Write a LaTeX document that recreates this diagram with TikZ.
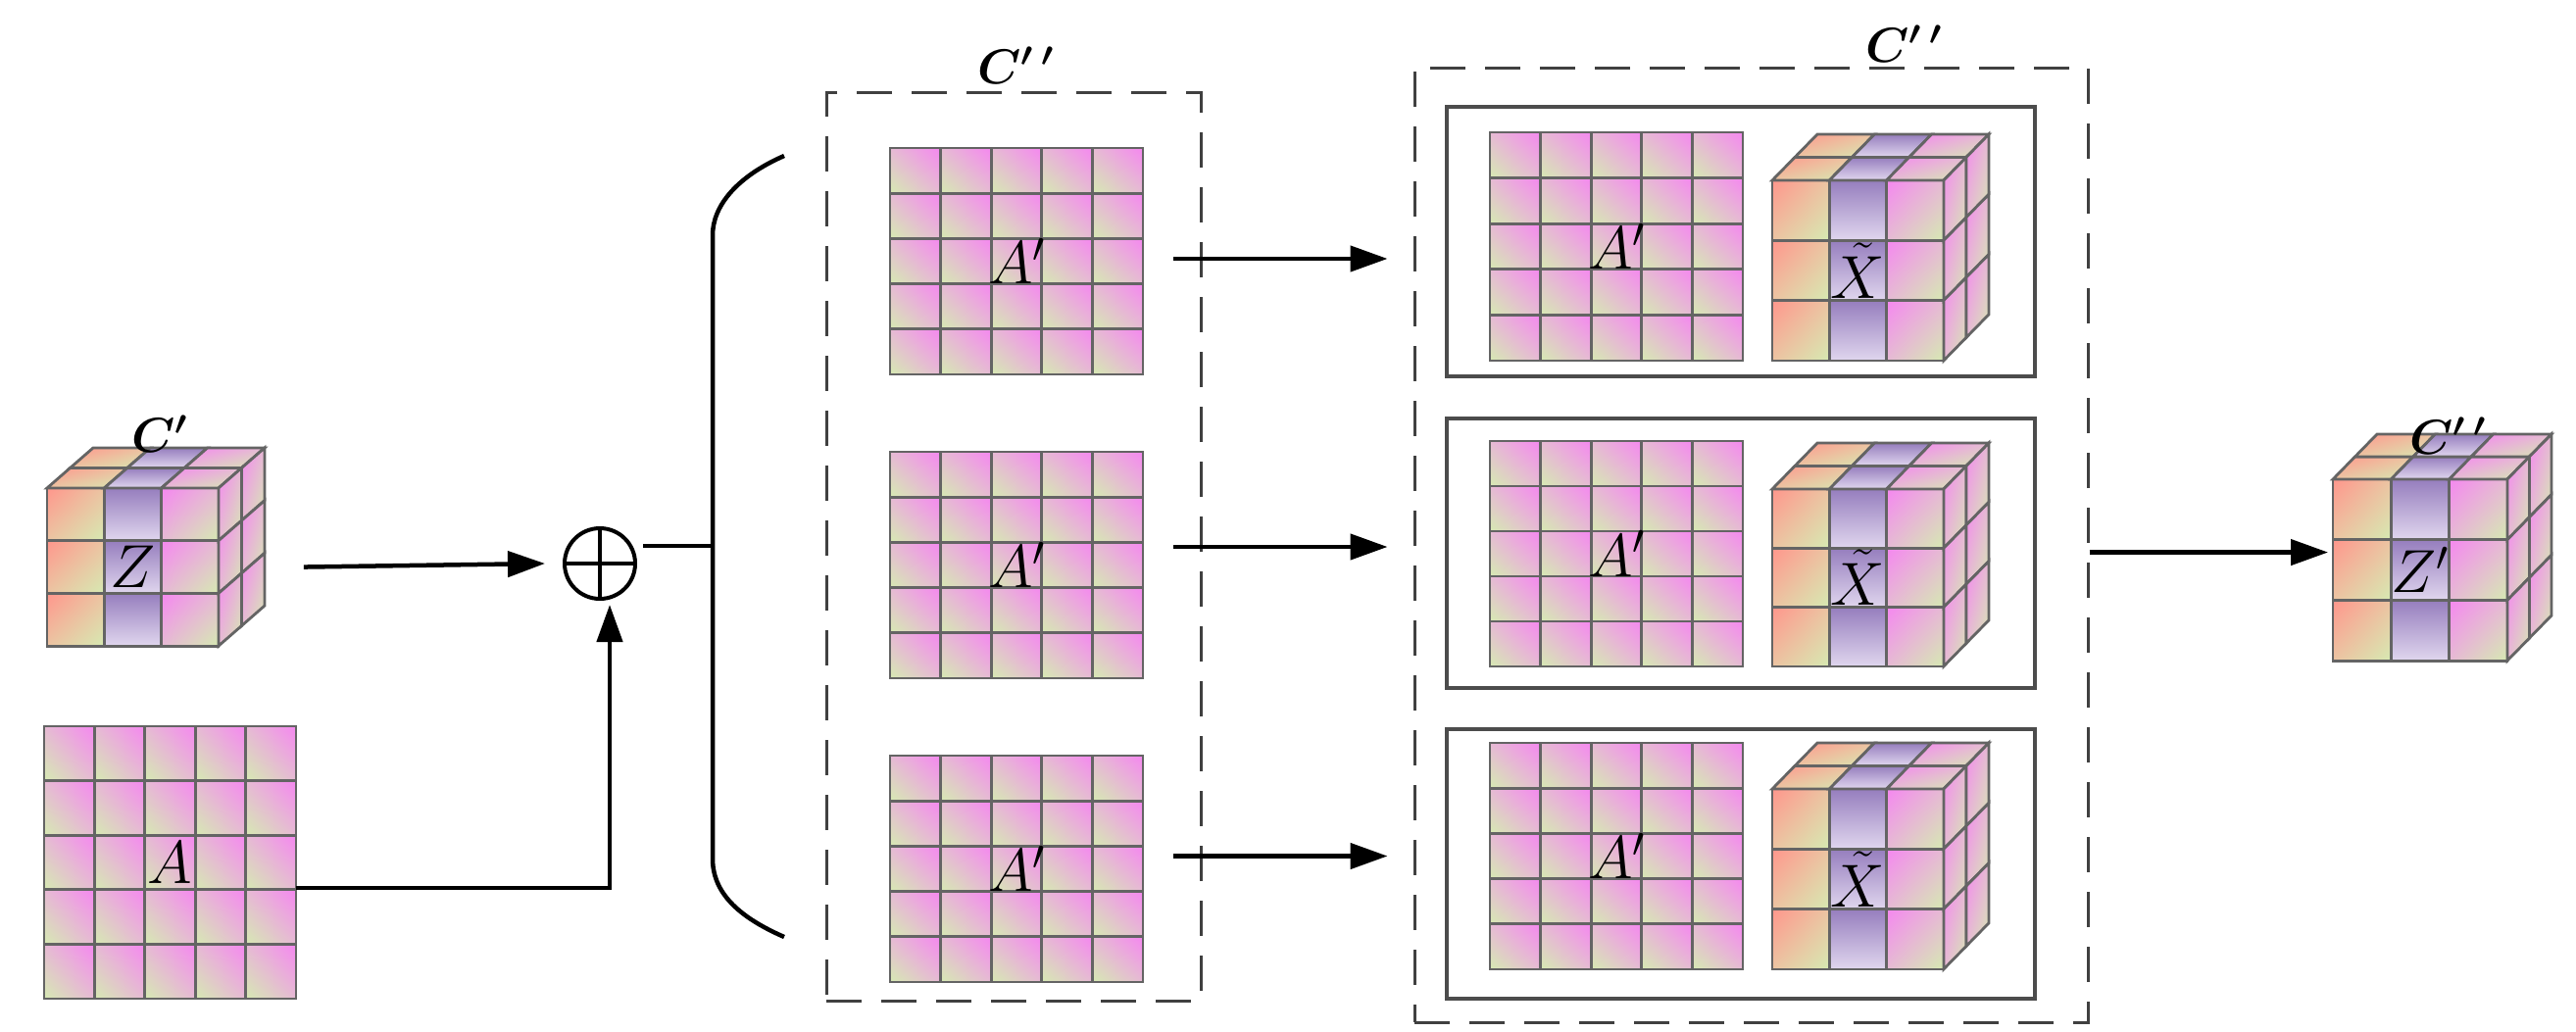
\RequirePackage{fix-cm}
\documentclass[tikz,border=0pt]{standalone}
\usepackage{bm}
\usepackage{xcolor}
\usetikzlibrary{arrows.meta, positioning, shadings}

\definecolor{salm}{RGB}{255,150,140}
\definecolor{lgr}{RGB}{214,234,178}
\definecolor{mixw}{RGB}{236,196,162}
\definecolor{purp}{RGB}{150,126,190}
\definecolor{lav}{RGB}{224,214,238}
\definecolor{magc}{RGB}{245,135,240}
\definecolor{mixp}{RGB}{230,186,212}
\definecolor{edge}{RGB}{100,100,100}

\tikzset{
  warm/.style={upper left=salm, lower right=lgr, upper right=mixw, lower left=mixw},
  violet/.style={upper left=purp, upper right=purp, lower left=lav, lower right=lav},
  pinky/.style={upper left=magc, lower right=lgr, upper right=mixp, lower left=mixp},
  agrid/.style={upper right=magc, lower left=lgr, upper left=mixp, lower right=mixp},
  cell/.style={draw=edge, line width=2.8pt},
  blk/.style={draw=none, inner sep=0pt, outer sep=0pt, font=\fontsize{62}{62}\selectfont},
  dbox/.style={draw=black!75, line width=3pt, dash pattern=on 36pt off 20pt, inner sep=0pt},
  ibox/.style={draw=black!70, line width=3.2pt, inner sep=0pt},
  lbl/.style={font=\fontsize{50}{50}\selectfont},
  arr/.style={line width=4.5pt, -{Triangle[length=38pt,width=26pt]}},
  ln/.style={line width=4.5pt}
}

% 5x5 adjacency grid
\newcommand{\mapgrid}[6]{%
  \foreach \i in {0,...,4}{\foreach \j in {0,...,4}{
    \shadedraw[agrid, cell] ({#2+\i*#4/5},{-#3-\j*#5/5}) rectangle ++({#4/5},{-#5/5});}}
  \node[blk, minimum width={#4*1pt}, minimum height={#5*1pt}] (#1) at ({#2+#4/2},{-#3-#5/2}) {#6};
}

% 3x3x2 feature cube
\newcommand{\cubeblk}[8]{%
  \foreach \i/\s in {0/warm,1/violet,2/pinky}{
    \foreach \k in {0,1,2}{
      \shadedraw[\s, cell] ({#2+\i*#4},{-#3-\k*#5}) rectangle ++(#4,-#5);}
    \foreach \j in {0,1}{
      \shadedraw[\s, cell] ({#2+\i*#4+\j*#6/2},{-#3+\j*#7/2}) -- ++(#4,0)
        -- ++({#6/2},{#7/2}) -- ++(-#4,0) -- cycle;}}
  \foreach \j in {0,1}{\foreach \k in {0,1,2}{
    \shadedraw[pinky, cell] ({#2+3*#4+\j*#6/2},{-#3-\k*#5+\j*#7/2}) -- ++({#6/2},{#7/2})
      -- ++(0,-#5) -- ++({-#6/2},{-#7/2}) -- cycle;}}
  \node[blk, minimum width={3*#4*1pt}, minimum height={3*#5*1pt}] (#1) at ({#2+1.5*#4},{-#3-1.5*#5}) {#8};
}

\begin{document}
\begin{tikzpicture}[x=1pt, y=1pt]
\useasboundingbox (0,0) rectangle (2628,-1052);

% inputs
\cubeblk{Zc}{48}{498}{58.3}{53.7}{47}{41}{$Z$}
\node[lbl] (lC) at (163,-443) {$\bm{C'}$};
\mapgrid{Ag}{45}{741}{257}{278}{$A$}

% fusion
\node[circle, draw, line width=4pt, minimum size=72pt, inner sep=0pt] (plus) at (612,-575) {};
\draw[line width=3.5pt] (plus.north) -- (plus.south) (plus.west) -- (plus.east);
\draw[arr] ([xshift=87pt]Zc.east) -- ([xshift=-18pt]plus.west);
\draw[arr] ([yshift=-26pt]Ag.east) -| ([xshift=10pt,yshift=-4pt]plus.south);

% brace
\coordinate (brc) at (727,-557);
\coordinate (brtop) at (800,-159);
\coordinate (brbot) at (800,-956);
\draw[ln] ([xshift=6pt,yshift=18pt]plus.east) -- (brc);
\draw[ln] (brtop) .. controls (752,-180) and (727,-210) .. (727,-240) -- (727,-876)
  .. controls (727,-910) and (752,-935) .. (brbot);

% first set
\node[dbox, minimum width=382pt, minimum height=927pt] (cbox1) at (1034,-557.5) {};
\node[lbl] (lC1) at (1036,-67) {$\bm{C'\,'}$};
\mapgrid{Ap1}{908}{151}{258}{231}{$A'$}
\mapgrid{Ap2}{908}{461}{258}{231}{$A'$}
\mapgrid{Ap3}{908}{771}{258}{231}{$A'$}

% second set
\node[dbox, minimum width=687pt, minimum height=974pt] (cbox2) at (1786.5,-556) {};
\node[lbl] (lC2) at (1942,-45) {$\bm{C'\,'}$};
\foreach \k/\t in {1/109,2/427,3/744}{
  \node[ibox, minimum width=600pt, minimum height=275pt] (ib\k) at (1776,{-\t-137.5}) {};
}
\mapgrid{Bp1}{1520}{135}{258}{233}{$A'$}
\mapgrid{Bp2}{1520}{450}{258}{230}{$A'$}
\mapgrid{Bp3}{1520}{758}{258}{231}{$A'$}
\cubeblk{Xt1}{1808}{184}{58.3}{61.3}{46}{47}{$\tilde{X}$}
\cubeblk{Xt2}{1808}{499}{58.3}{60.3}{46}{47}{$\tilde{X}$}
\cubeblk{Xt3}{1808}{805}{58.3}{61.3}{46}{47}{$\tilde{X}$}

\foreach \k/\s in {1/2.5,2/18.5,3/13}{
  \coordinate (t\k) at ([yshift=\s pt]cbox2.west |- Ap\k.east);
  \draw[arr] ([xshift=31pt,yshift=\s pt]Ap\k.east) -- ([xshift=-26pt]t\k);
}

% output
\cubeblk{Zp}{2380}{489}{59.3}{61.7}{45}{46}{$Z'$}
\node[lbl] (lC3) at (2497,-445) {$\bm{C'\,'}$};
\coordinate (zin) at ([xshift=-5pt,yshift=18pt]Zp.west);
\draw[arr] (cbox2.east |- zin) -- (zin);
\end{tikzpicture}
\end{document}
